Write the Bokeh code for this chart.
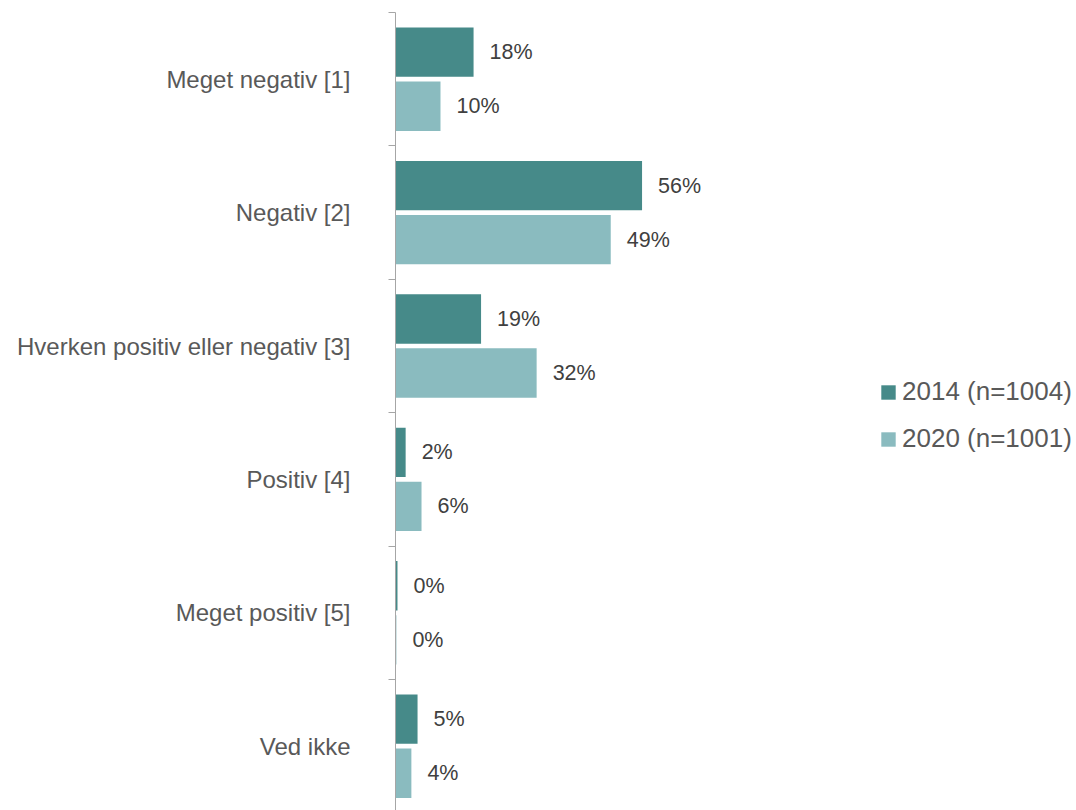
from bokeh.plotting import figure
from bokeh.models import ColumnDataSource, Range1d, FixedTicker
from bokeh.core.properties import value
from bokeh.embed import file_html
from bokeh.resources import INLINE

categories = ["Meget negativ [1]", "Negativ [2]", "Hverken positiv eller negativ [3]",
              "Positiv [4]", "Meget positiv [5]", "Ved ikke"]
series = ["2014 (n=1004)", "2020 (n=1001)"]
values_2014 = [17.7, 55.9, 19.4, 2.3, 0.45, 5.0]
values_2020 = [10.2, 48.8, 32.0, 5.9, 0.2, 3.6]
colors = ["#468A89", "#8ABBBF"]

FONT = "Liberation Sans"
idx = list(range(len(categories)))
off = 0.2025
bar_h = 0.37

p = figure(width=1076, height=810, output_backend="svg", toolbar_location=None,
           x_range=Range1d(0, 154.4), y_range=Range1d(5.482, -0.5),
           x_axis_location=None, min_border_left=395, min_border_right=0,
           min_border_top=12, min_border_bottom=0)
p.outline_line_color = None
p.xgrid.visible = False
p.ygrid.visible = False

for k, (vals, col, name, sgn) in enumerate(zip([values_2014, values_2020], colors, series, [-1, 1])):
    src = ColumnDataSource(dict(
        y=[i + sgn * off for i in idx],
        v=vals,
        lab=[f"{round(v)}%" for v in vals],
    ))
    p.hbar(y="y", left=0, right="v", height=bar_h, source=src, fill_color=col,
           line_color=None, legend_label=name)
    p.text(x="v", y="y", text="lab", source=src, x_offset=16,
           text_font=value(FONT), text_font_size="21.5px", text_color="#404040",
           text_align="left", text_baseline="middle")

ax = p.yaxis[0]
ax.ticker = FixedTicker(ticks=idx, minor_ticks=[i - 0.5 for i in range(len(categories) + 1)])
ax.major_label_overrides = {i: c for i, c in zip(idx, categories)}
ax.major_tick_line_color = None
ax.major_tick_out = 0
ax.major_tick_in = 0
ax.minor_tick_line_color = "#A6A6A6"
ax.minor_tick_out = 7
ax.minor_tick_in = 0
ax.axis_line_color = "#A6A6A6"
ax.major_label_standoff = 38
ax.major_label_text_font = FONT
ax.major_label_text_font_size = "24px"
ax.major_label_text_color = "#595959"

lg = p.legend[0]
lg.location = (484, 356)
lg.border_line_color = None
lg.background_fill_alpha = 0
lg.padding = 0
lg.margin = 0
lg.spacing = 16
lg.glyph_width = 18
lg.glyph_height = 18
lg.label_standoff = 5
lg.label_text_font = FONT
lg.label_text_font_size = "26px"
lg.label_text_color = "#595959"

open("out.html", "w").write(file_html(p, INLINE))
